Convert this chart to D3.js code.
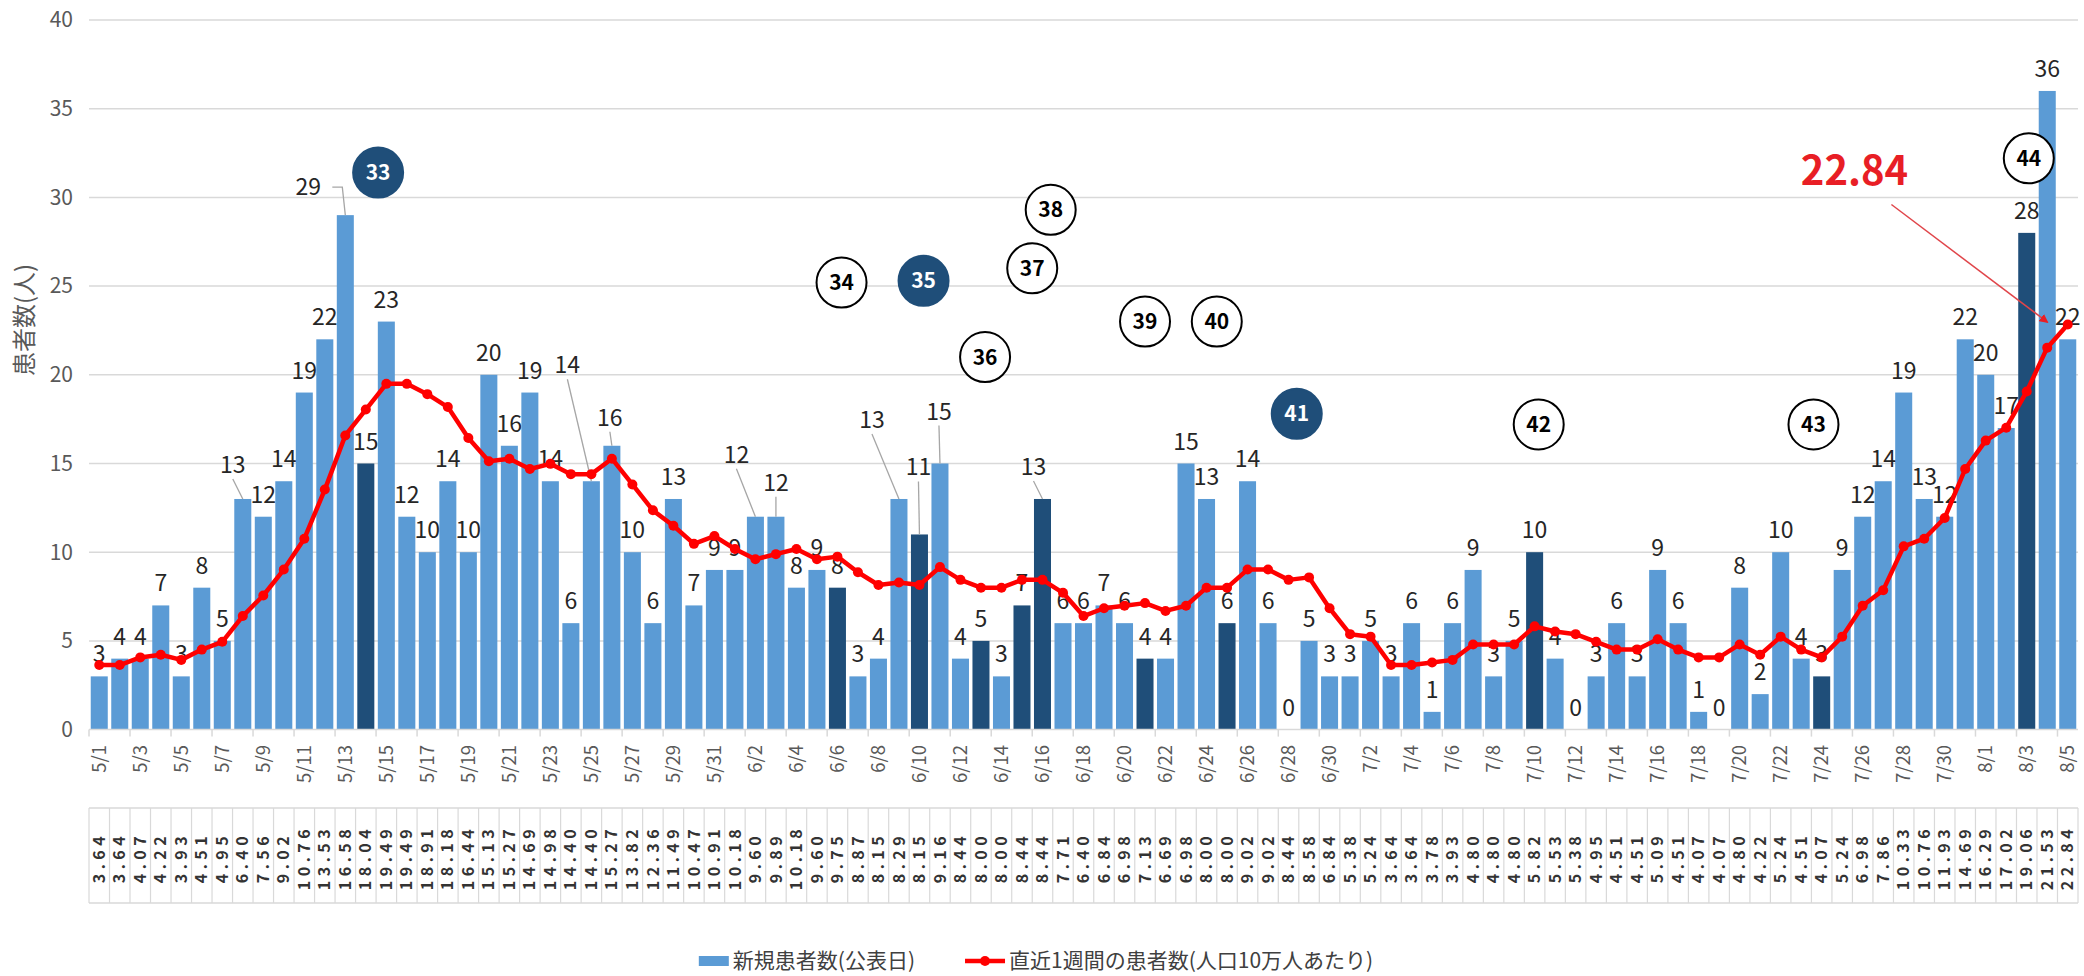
<!DOCTYPE html>
<html lang="ja">
<head>
<meta charset="utf-8">
<script src="https://cdn.jsdelivr.net/npm/d3@7/dist/d3.min.js"></script>
<style>
  html, body { margin: 0; padding: 0; background: #fff; }
  svg { display: block; font-family: "Noto Sans CJK JP", "Noto Sans", sans-serif; }
</style>
</head>
<body>
<div id="chart"></div>
<script>
// categories (公表日)
const dates = [
  "5/1","5/2","5/3","5/4","5/5","5/6","5/7","5/8","5/9","5/10",
  "5/11","5/12","5/13","5/14","5/15","5/16","5/17","5/18","5/19","5/20",
  "5/21","5/22","5/23","5/24","5/25","5/26","5/27","5/28","5/29","5/30","5/31",
  "6/1","6/2","6/3","6/4","6/5","6/6","6/7","6/8","6/9","6/10",
  "6/11","6/12","6/13","6/14","6/15","6/16","6/17","6/18","6/19","6/20",
  "6/21","6/22","6/23","6/24","6/25","6/26","6/27","6/28","6/29","6/30",
  "7/1","7/2","7/3","7/4","7/5","7/6","7/7","7/8","7/9","7/10",
  "7/11","7/12","7/13","7/14","7/15","7/16","7/17","7/18","7/19","7/20",
  "7/21","7/22","7/23","7/24","7/25","7/26","7/27","7/28","7/29","7/30","7/31",
  "8/1","8/2","8/3","8/4","8/5"
];

// 新規患者数(公表日)
const newCases = [
  3,4,4,7,3,8,5,13,12,14,19,22,29,15,23,12,10,14,10,20,16,19,14,6,14,16,10,6,13,7,9,
  9,12,12,8,9,8,3,4,13,11,15,4,5,3,7,13,6,6,7,6,4,4,15,13,6,14,6,0,5,3,
  3,5,3,6,1,6,9,3,5,10,4,0,3,6,3,9,6,1,0,8,2,10,4,3,9,12,14,19,13,12,22,
  20,17,28,36,22
];

// 直近1週間の患者数(人口10万人あたり)
const weeklyRate = [
  3.64,3.64,4.07,4.22,3.93,4.51,4.95,6.40,7.56,9.02,10.76,13.53,16.58,18.04,19.49,19.49,
  18.91,18.18,16.44,15.13,15.27,14.69,14.98,14.40,14.40,15.27,13.82,12.36,11.49,10.47,10.91,
  10.18,9.60,9.89,10.18,9.60,9.75,8.87,8.15,8.29,8.15,9.16,8.44,8.00,8.00,8.44,8.44,7.71,
  6.40,6.84,6.98,7.13,6.69,6.98,8.00,8.00,9.02,9.02,8.44,8.58,6.84,
  5.38,5.24,3.64,3.64,3.78,3.93,4.80,4.80,4.80,5.82,5.53,5.38,4.95,4.51,4.51,5.09,4.51,
  4.07,4.07,4.80,4.22,5.24,4.51,4.07,5.24,6.98,7.86,10.33,10.76,11.93,14.69,
  16.29,17.02,19.06,21.53,22.84
];

// days drawn in dark blue
const darkDates = ["5/14","6/6","6/10","6/13","6/15","6/16","6/21","6/25","7/10","7/24","8/3"];

const yTicks = [0,5,10,15,20,25,30,35,40];

// numbered circles: position given as (day index, y value)
const circleNotes = [
  {label: "33", at: 13.6, value: 31.4, filled: true},
  {label: "34", at: 36.2, value: 25.2, filled: false},
  {label: "35", at: 40.2, value: 25.3, filled: true},
  {label: "36", at: 43.2, value: 21.0, filled: false},
  {label: "37", at: 45.5, value: 26.0, filled: false},
  {label: "38", at: 46.4, value: 29.3, filled: false},
  {label: "39", at: 51.0, value: 23.0, filled: false},
  {label: "40", at: 54.5, value: 23.0, filled: false},
  {label: "41", at: 58.4, value: 17.8, filled: true},
  {label: "42", at: 70.2, value: 17.2, filled: false},
  {label: "43", at: 83.6, value: 17.2, filled: false},
  {label: "44", at: 94.1, value: 32.2, filled: false}
];

const calloutText = "22.84";
const legendBar = "新規患者数(公表日)";
const legendLine = "直近1週間の患者数(人口10万人あたり)";
const yTitle = "患者数(人)";

// labels moved away from the bar top (pixels), with leader lines
const labelNudge = {
  "5/8":  {dx: -10, dy: -12},
  "5/13": {dx: -37, dy: -6, elbow: true},
  "5/25": {dx: -24, dy: -94},
  "5/26": {dx: -2,  dy: -6},
  "6/2":  {dx: -19, dy: -40},
  "6/3":  {dx: 0,   dy: -12},
  "6/9":  {dx: -27, dy: -57},
  "6/10": {dx: -1,  dy: -45},
  "6/11": {dx: -1,  dy: -30},
  "6/16": {dx: -9,  dy: -10}
};

const width = 2084, height = 976;
const plot = {left: 89, right: 2078, top: 20, bottom: 729.6};

const svg = d3.select("#chart").append("svg")
  .attr("width", width)
  .attr("height", height);

const x = d3.scaleBand()
  .domain(dates)
  .range([plot.left, plot.right])
  .paddingInner(0.17)
  .paddingOuter(0.085);

const y = d3.scaleLinear()
  .domain([0, 40])
  .range([plot.bottom, plot.top]);

const bw = x.bandwidth();
const step = x.step();
const cx = d => x(d) + bw / 2;
const edge = d => x(d) - (step - bw) / 2;
const xi = d3.scaleLinear().domain([0, dates.length - 1]).range([cx(dates[0]), cx(dates[dates.length - 1])]);

// gridlines + y labels
svg.append("g").selectAll("line")
  .data(yTicks.filter(t => t > 0))
  .join("line")
  .attr("x1", plot.left).attr("x2", plot.right)
  .attr("y1", d => y(d)).attr("y2", d => y(d))
  .attr("stroke", "#d9d9d9").attr("stroke-width", 1.5);

svg.append("g").selectAll("text")
  .data(yTicks)
  .join("text")
  .attr("x", 73).attr("y", d => y(d)).attr("dy", "0.35em")
  .attr("text-anchor", "end")
  .attr("font-size", 21).attr("fill", "#595959")
  .text(d => d);

svg.append("text")
  .attr("transform", "translate(25,320) rotate(-90)")
  .attr("text-anchor", "middle").attr("dy", "0.35em")
  .attr("font-size", 24).attr("fill", "#595959")
  .text(yTitle);

// bars
const data = dates.map((d, i) => ({date: d, cases: newCases[i], rate: weeklyRate[i], i: i}));

svg.append("g").selectAll("rect")
  .data(data)
  .join("rect")
  .attr("x", d => x(d.date))
  .attr("width", bw)
  .attr("y", d => y(d.cases))
  .attr("height", d => y(0) - y(d.cases))
  .attr("fill", d => darkDates.includes(d.date) ? "#1f4e79" : "#5b9bd5");

// x axis line, ticks, labels
svg.append("line")
  .attr("x1", plot.left).attr("x2", plot.right)
  .attr("y1", y(0)).attr("y2", y(0))
  .attr("stroke", "#d9d9d9").attr("stroke-width", 1.5);

const labelled = data.filter(d => d.i % 2 === 0);
svg.append("g").selectAll("line")
  .data(labelled)
  .join("line")
  .attr("x1", d => edge(d.date)).attr("x2", d => edge(d.date))
  .attr("y1", y(0)).attr("y2", y(0) + 7)
  .attr("stroke", "#d9d9d9").attr("stroke-width", 1.5);

svg.append("g").selectAll("text")
  .data(labelled)
  .join("text")
  .attr("transform", d => `translate(${cx(d.date)},745) rotate(-90)`)
  .attr("text-anchor", "end").attr("dy", "0.35em")
  .attr("font-size", 18.5).attr("fill", "#595959")
  .text(d => d.date);

// leader lines
const leaders = svg.append("g")
  .attr("stroke", "#a6a6a6").attr("stroke-width", 1.3).attr("fill", "none");

data.filter(d => labelNudge[d.date]).forEach(d => {
  const n = labelNudge[d.date];
  const lx = cx(d.date) + n.dx;
  const ly = y(d.cases) - 14 + n.dy;
  let pts;
  if (n.elbow) {
    pts = [[lx + 24, ly - 8], [cx(d.date) - 3, ly - 8], [cx(d.date), y(d.cases)]];
  } else {
    pts = [[lx, ly + 6], [cx(d.date), y(d.cases)]];
  }
  leaders.append("path").attr("d", d3.line()(pts));
});

// bar value labels
svg.append("g").selectAll("text")
  .data(data)
  .join("text")
  .attr("x", d => cx(d.date) + (labelNudge[d.date] ? labelNudge[d.date].dx : 0))
  .attr("y", d => y(d.cases) - 14 + (labelNudge[d.date] ? labelNudge[d.date].dy : 0))
  .attr("text-anchor", "middle")
  .attr("font-size", 23).attr("fill", "#262626")
  .text(d => d.cases);

// weekly rate line
const line = d3.line()
  .x(d => cx(d.date))
  .y(d => y(d.rate));

svg.append("path")
  .datum(data)
  .attr("d", line)
  .attr("fill", "none")
  .attr("stroke", "#ff0000")
  .attr("stroke-width", 4.5)
  .attr("stroke-linejoin", "round");

svg.append("g").selectAll("circle")
  .data(data)
  .join("circle")
  .attr("cx", d => cx(d.date))
  .attr("cy", d => y(d.rate))
  .attr("r", 5)
  .attr("fill", "#ff0000");

// numbered circles
const notes = svg.append("g").selectAll("g")
  .data(circleNotes)
  .join("g")
  .attr("transform", d => `translate(${xi(d.at)},${y(d.value)})`);

notes.append("circle")
  .attr("r", 25)
  .attr("fill", d => d.filled ? "#1f4e79" : "#fff")
  .attr("stroke", d => d.filled ? "#1f4e79" : "#000")
  .attr("stroke-width", 2);

notes.append("text")
  .attr("text-anchor", "middle").attr("dy", "0.36em")
  .attr("font-size", 21).attr("font-weight", "bold")
  .attr("fill", d => d.filled ? "#fff" : "#000")
  .text(d => d.label);

// 22.84 callout with arrow
const last = data[data.length - 1];
svg.append("defs").append("marker")
  .attr("id", "arrow")
  .attr("viewBox", "0 0 10 10")
  .attr("refX", 9).attr("refY", 5)
  .attr("markerWidth", 9).attr("markerHeight", 9)
  .attr("markerUnits", "userSpaceOnUse")
  .attr("orient", "auto")
  .append("path").attr("d", "M0,0L10,5L0,10z").attr("fill", "#e81e25");

svg.append("text")
  .attr("x", xi(85.6)).attr("y", y(30.7))
  .attr("text-anchor", "middle")
  .attr("font-size", 40).attr("font-weight", "bold")
  .attr("fill", "#e81e25")
  .text(calloutText);

svg.append("line")
  .attr("x1", xi(87.4)).attr("y1", y(29.6))
  .attr("x2", cx(last.date) - 20).attr("y2", y(last.rate) - 2)
  .attr("stroke", "#e0454a").attr("stroke-width", 1.5)
  .attr("marker-end", "url(#arrow)");

// data table
const tTop = 808, tBottom = 903;
const table = svg.append("g");
table.append("line")
  .attr("x1", plot.left).attr("x2", plot.right)
  .attr("y1", tTop).attr("y2", tTop)
  .attr("stroke", "#d9d9d9").attr("stroke-width", 1.5);
table.append("line")
  .attr("x1", plot.left).attr("x2", plot.right)
  .attr("y1", tBottom).attr("y2", tBottom)
  .attr("stroke", "#d9d9d9").attr("stroke-width", 1.5);
table.selectAll(".col")
  .data(data.concat([null]))
  .join("line")
  .attr("class", "col")
  .attr("x1", (d, i) => i < data.length ? edge(d.date) : plot.right)
  .attr("x2", (d, i) => i < data.length ? edge(d.date) : plot.right)
  .attr("y1", tTop).attr("y2", tBottom)
  .attr("stroke", "#d9d9d9").attr("stroke-width", 1.2);

const fmt = d3.format(".2f");
table.selectAll(".val")
  .data(data)
  .join("text")
  .attr("class", "val")
  .attr("transform", d => `translate(${cx(d.date)},${(tTop + tBottom) / 2 + 2}) rotate(-90)`)
  .attr("text-anchor", "middle").attr("dy", "0.35em")
  .attr("font-size", 16).attr("font-weight", "bold")
  .attr("letter-spacing", 4.5)
  .attr("fill", "#333")
  .text(d => fmt(d.rate));

// legend
const legend = svg.append("g");
const ly = 961;
legend.append("rect")
  .attr("x", 0).attr("y", ly - 5).attr("width", 30).attr("height", 10)
  .attr("fill", "#5b9bd5");
const t1 = legend.append("text")
  .attr("x", 34).attr("y", ly).attr("dy", "0.35em")
  .attr("font-size", 21).attr("fill", "#404040")
  .text(legendBar);
const l2 = 34 + t1.node().getComputedTextLength() + 50;
legend.append("line")
  .attr("x1", l2).attr("x2", l2 + 40)
  .attr("y1", ly).attr("y2", ly)
  .attr("stroke", "#ff0000").attr("stroke-width", 4.5);
legend.append("circle")
  .attr("cx", l2 + 20).attr("cy", ly).attr("r", 5)
  .attr("fill", "#ff0000");
const t2 = legend.append("text")
  .attr("x", l2 + 44).attr("y", ly).attr("dy", "0.35em")
  .attr("font-size", 21).attr("fill", "#404040")
  .text(legendLine);
const legendW = l2 + 44 + t2.node().getComputedTextLength();
legend.attr("transform", `translate(${1036 - legendW / 2},0)`);
</script>
</body>
</html>
